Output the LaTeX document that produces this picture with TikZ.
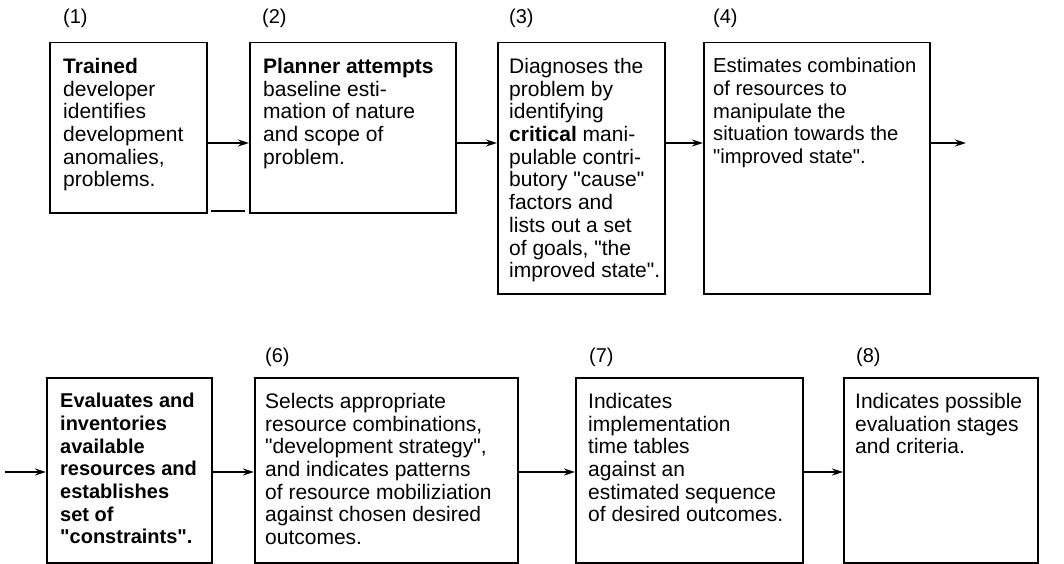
\documentclass[tikz,border=0pt]{standalone}
\usepackage{fontspec}
\setmainfont{Liberation Sans}[Ligatures=TeXOff]
\usetikzlibrary{arrows.meta}
\begin{document}
\begin{tikzpicture}[x=1pt,y=-1pt,
  box/.style={draw, line width=1.5pt, rectangle, inner sep=0pt, anchor=north west},
  txt/.style={anchor=north west, inner sep=0pt, align=left, font=\fontsize{21}{22.7}\selectfont},
  num/.style={anchor=west, inner sep=0pt, font=\fontsize{20}{22}\selectfont},
  arr/.style={line width=1.8pt, -{Stealth[length=11pt,width=7pt]}}]
\path[fill=white, use as bounding box] (0,0) rectangle (1064,564);

% top row boxes
\node[box, minimum width=157pt, minimum height=170pt] (b1) at (49,42) {};
\node[box, minimum width=206pt, minimum height=170pt] (b2) at (249,42) {};
\node[box, minimum width=167pt, minimum height=251pt] (b3) at (497,42) {};
\node[box, minimum width=226pt, minimum height=251pt] (b4) at (703,42) {};
% bottom row boxes
\node[box, minimum width=165pt, minimum height=185pt] (b5) at (46,377) {};
\node[box, minimum width=263pt, minimum height=185pt] (b6) at (254,377) {};
\node[box, minimum width=227pt, minimum height=185pt] (b7) at (575,377) {};
\node[box, minimum width=194pt, minimum height=185pt] (b8) at (843,377) {};

% numbers
\node[num] (n1) at (63,18) {(1)};
\node[num] (n2) at (262,18) {(2)};
\node[num] (n3) at (509,18) {(3)};
\node[num] (n4) at (713,18) {(4)};
\node[num] (n6) at (265,357) {(6)};
\node[num] (n7) at (589,357) {(7)};
\node[num] (n8) at (856,357) {(8)};

% texts
\node[txt] (t1) at (63,58) {\textbf{Trained}\\developer\\identifies\\development\\anomalies,\\problems.};
\node[txt] (t2) at (263,58) {\textbf{Planner attempts}\\baseline esti-\\mation of nature\\and scope of\\problem.};
\node[txt] (t3) at (509,58) {Diagnoses the\\problem by\\identifying\\\textbf{critical} mani-\\pulable contri-\\butory "cause"\\factors and\\lists out a set\\of goals, "the\\improved state".};
\node[txt, font=\fontsize{20.2}{22.7}\selectfont] (t4) at (713,58) {Estimates combination\\of resources to\\manipulate the\\situation towards the\\"improved state".};
\node[txt, font=\fontsize{20}{22.7}\selectfont\bfseries] (t5) at (60,393) {Evaluates and\\inventories\\available\\resources and\\establishes\\set of\\"constraints".};
\node[txt] (t6) at (265,393) {Selects appropriate\\resource combinations,\\"development strategy",\\and indicates patterns\\of resource mobiliziation\\against chosen desired\\outcomes.};
\node[txt] (t7) at (588,393) {Indicates\\implementation\\time tables\\against an\\estimated sequence\\of desired outcomes.};
\node[txt] (t8) at (855,393) {Indicates possible\\evaluation stages\\and criteria.};

% connectors
\coordinate (out4) at (966,143);
\coordinate (in5) at (5,472);
\draw[arr] (b1.east |- 0,143) -- (b2.west |- 0,143);
\draw[arr] (b2.east |- 0,143) -- (b3.west |- 0,143);
\draw[arr] (b3.east |- 0,143) -- (b4.west |- 0,143);
\draw[arr] (b4.east |- out4) -- (out4);
\draw[arr] (in5) -- (b5.west |- in5);
\draw[arr] (b5.east |- 0,472) -- (b6.west |- 0,472);
\draw[arr] (b6.east |- 0,472) -- (b7.west |- 0,472);
\draw[arr] (b7.east |- 0,472) -- (b8.west |- 0,472);

% short stray rule below the gap between boxes 1 and 2
\draw[line width=1.2pt] (211,211) -- (245,211);
\end{tikzpicture}
\end{document}
